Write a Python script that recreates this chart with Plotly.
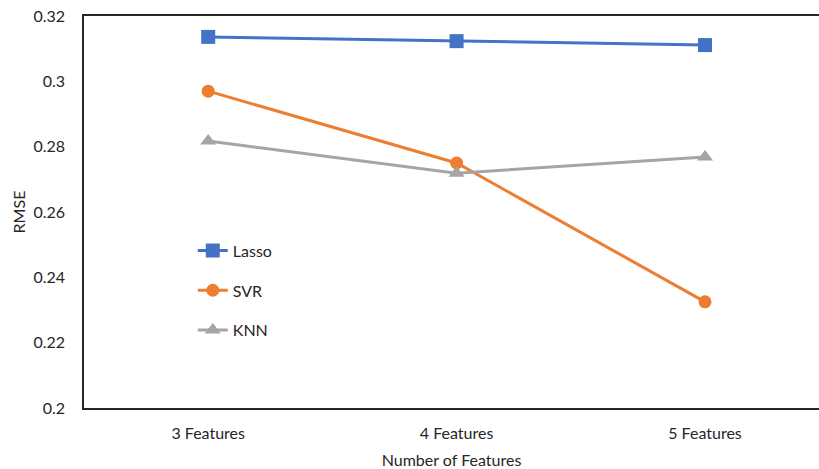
import plotly.graph_objects as go

categories = ["3 Features", "4 Features", "5 Features"]
lasso = [0.3136, 0.3123, 0.3111]
svr = [0.2970, 0.2750, 0.2325]
knn = [0.2817, 0.2719, 0.2768]
y_ticks = [0.2, 0.22, 0.24, 0.26, 0.28, 0.3, 0.32]
y_tick_labels = ["0.2", "0.22", "0.24", "0.26", "0.28", "0.3", "0.32"]

FONT = "Lato"
fig = go.Figure()
series = [
    ("Lasso", lasso, "#4472C4", "square", 14),
    ("SVR", svr, "#ED7D31", "circle", 13),
    ("KNN", knn, "#A5A5A5", "triangle-up", 14),
]
for name, vals, color, sym, size in series:
    fig.add_trace(go.Scatter(
        x=list(range(len(categories))), y=vals, name=name, legendgroup=name,
        mode="lines+markers",
        line=dict(color=color, width=3),
        marker=dict(symbol=sym, size=size, color=color),
    ))

fig.update_layout(
    width=819, height=469,
    margin=dict(l=84, r=0, t=16, b=61),
    paper_bgcolor="white", plot_bgcolor="white",
    font=dict(family=FONT, size=16, color="#262626"),
    showlegend=True,
    legend=dict(x=0.148, y=0.445, xanchor="left", yanchor="top",
                bgcolor="rgba(0,0,0,0)", font=dict(size=16, color="#262626"),
                tracegroupgap=16, traceorder="grouped", itemwidth=30),
    xaxis=dict(
        range=[-0.5, 2.459], tickvals=list(range(len(categories))), ticktext=categories,
        showgrid=False, zeroline=False, showline=True, linecolor="#262626", linewidth=1.5,
        mirror=True, ticks="", ticklabelstandoff=10,
        title=dict(text="Number of Features", standoff=14, font=dict(size=16)),
    ),
    yaxis=dict(
        range=[0.2, 0.32], tickvals=y_ticks, ticktext=y_tick_labels,
        showgrid=False, zeroline=False, showline=True, linecolor="#262626", linewidth=1.5,
        mirror=False, ticks="", ticklabelstandoff=14,
        title=dict(text="RMSE", standoff=4, font=dict(size=16)),
    ),
)
fig.write_html("out.html", config={"displayModeBar": False},
               post_script="document.body.style.margin='0';")
